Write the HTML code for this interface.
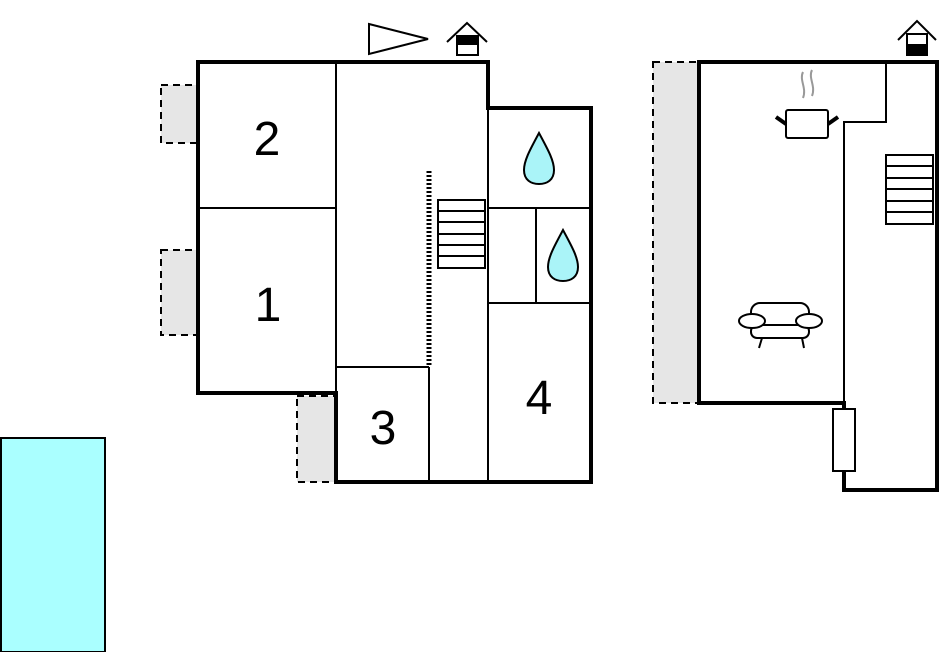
<!DOCTYPE html>
<html><head><meta charset="utf-8"><style>
html,body{margin:0;padding:0;background:#fff;width:941px;height:652px;overflow:hidden}
svg{display:block}
text{font-family:"Liberation Sans",sans-serif;font-size:48px;fill:#000;text-anchor:middle}
</style></head><body>
<svg width="941" height="652" viewBox="0 0 941 652">
<!-- pool -->
<rect x="1" y="438" width="104" height="214" fill="#aaffff" stroke="#000" stroke-width="2"/>
<!-- dashed balconies left -->
<g fill="#e6e6e6" stroke="#000" stroke-width="2" stroke-dasharray="7,5">
<rect x="161" y="85" width="37" height="58"/>
<rect x="161" y="250" width="37" height="85"/>
<rect x="297" y="396" width="39" height="86"/>
<rect x="653" y="62" width="46" height="341"/>
</g>
<!-- main outline -->
<polyline points="198,62 488,62 488,108 591,108 591,482 336,482 336,393 198,393 198,60" fill="#fff" stroke="#000" stroke-width="4"/>
<g stroke="#000" stroke-width="2" fill="none">
<line x1="336" y1="62" x2="336" y2="393"/>
<line x1="198" y1="208" x2="336" y2="208"/>
<line x1="336" y1="367" x2="429" y2="367"/>
<line x1="429" y1="367" x2="429" y2="482"/>
<line x1="488" y1="108" x2="488" y2="482"/>
<line x1="488" y1="208" x2="591" y2="208"/>
<line x1="488" y1="303" x2="591" y2="303"/>
<line x1="536" y1="208" x2="536" y2="303"/>
<rect x="438" y="200" width="47" height="68"/>
<line x1="438" y1="211" x2="485" y2="211"/><line x1="438" y1="222" x2="485" y2="222"/>
<line x1="438" y1="234" x2="485" y2="234"/><line x1="438" y1="245" x2="485" y2="245"/>
<line x1="438" y1="256" x2="485" y2="256"/>
</g>
<line x1="429" y1="171" x2="429" y2="367" stroke="#000" stroke-width="5" stroke-dasharray="2,2"/>
<!-- drops -->
<path d="M539,133 C531,148 524,160 524,170 C524,180 531,184 539,184 C547,184 554,180 554,170 C554,160 547,148 539,133 Z" fill="#aaf4f8" stroke="#000" stroke-width="2"/>
<path d="M563,230 C555,245 548,257 548,267 C548,277 555,281 563,281 C571,281 578,277 578,267 C578,257 571,245 563,230 Z" fill="#aaf4f8" stroke="#000" stroke-width="2"/>
<text x="267" y="155">2</text>
<text x="268" y="321">1</text>
<text x="383" y="444">3</text>
<text x="539" y="414">4</text>
<!-- compass triangle -->
<polygon points="369,24 428,39 369,54" fill="#fff" stroke="#000" stroke-width="2"/>
<!-- house icon -->
<g stroke="#000" stroke-width="2">
<polyline points="447,42 467,23 487,42" fill="none"/>
<rect x="457" y="36" width="21" height="19" fill="#fff"/>
<rect x="457" y="36" width="21" height="8" fill="#000"/>
</g>
<!-- right building -->
<polyline points="699,62 937,62 937,490 844,490 844,403 699,403 699,60" fill="#fff" stroke="#000" stroke-width="4"/>
<g stroke="#000" stroke-width="2" fill="none">
<polyline points="886,62 886,122 844,122 844,403"/>
<rect x="886" y="155" width="47" height="69"/>
<line x1="886" y1="166" x2="933" y2="166"/><line x1="886" y1="178" x2="933" y2="178"/>
<line x1="886" y1="189" x2="933" y2="189"/><line x1="886" y1="201" x2="933" y2="201"/>
<line x1="886" y1="212" x2="933" y2="212"/>
<rect x="833" y="409" width="22" height="62" fill="#fff"/>
</g>
<g stroke="#000" stroke-width="2">
<polyline points="898,40 917,21 936,40" fill="none"/>
<rect x="907" y="34" width="20" height="21" fill="#fff"/>
<rect x="907" y="45" width="20" height="10" fill="#000"/>
</g>
<!-- pot -->
<g stroke="#000" stroke-width="2" fill="#fff">
<rect x="786" y="110" width="42" height="28" rx="2"/>
<line x1="786" y1="124" x2="776" y2="117" stroke-width="4"/>
<line x1="828" y1="124" x2="838" y2="117" stroke-width="4"/>
</g>
<path d="M803,72 C799,80 807,88 803,98 M812,70 C808,78 816,86 812,96" stroke="#999" stroke-width="2" fill="none"/>
<!-- sofa -->
<g stroke="#000" stroke-width="2" fill="#fff">
<rect x="751" y="303" width="58" height="28" rx="9"/>
<rect x="751" y="325" width="58" height="13" rx="6"/>
<ellipse cx="752" cy="321" rx="13" ry="7"/>
<ellipse cx="809" cy="321" rx="13" ry="7"/>
<line x1="762" y1="338" x2="759" y2="348"/>
<line x1="802" y1="338" x2="804" y2="348"/>
</g>
</svg>
</body></html>
